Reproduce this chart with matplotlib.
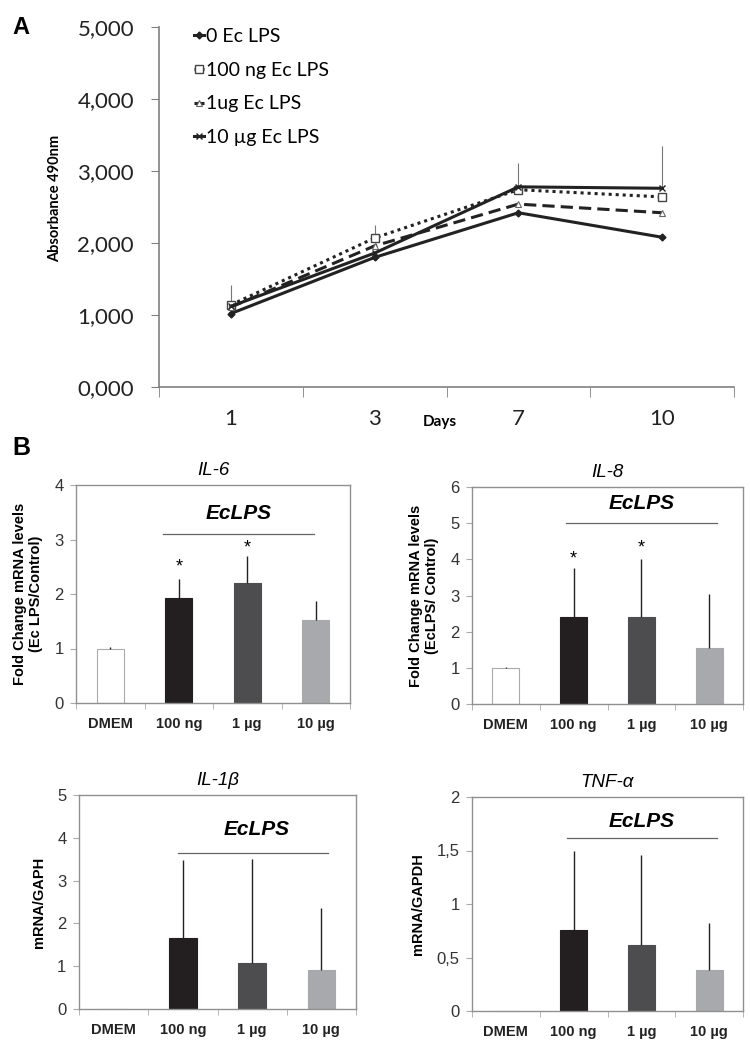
import numpy as np
import matplotlib
matplotlib.use("Agg")
import matplotlib.pyplot as plt
from matplotlib.ticker import FixedLocator, FixedFormatter

# ---- panel A data ----
days = ["1", "3", "7", "10"]
abs_0 = [1020, 1800, 2420, 2080]
abs_100ng = [1140, 2070, 2740, 2640]
abs_1ug = [1110, 1960, 2540, 2420]
abs_10ug = [1120, 1860, 2780, 2760]
err_100ng = [280, 180, 0, 0]
err_10ug = [0, 0, 330, 590]
a_yticks = [0, 1000, 2000, 3000, 4000, 5000]
a_ylabels = ["0,000", "1,000", "2,000", "3,000", "4,000", "5,000"]

# ---- panel B data ----
groups = ["DMEM", "100 ng", "1 µg", "10 µg"]
il6_vals = [1.0, 1.93, 2.2, 1.52]
il6_err = [0.02, 0.35, 0.5, 0.36]
il6_star = [None, 2.5, 2.84, None]
il8_vals = [1.0, 2.4, 2.4, 1.55]
il8_err = [0.03, 1.35, 1.6, 1.5]
il8_star = [None, 4.0, 4.3, None]
il1b_vals = [0.01, 1.67, 1.07, 0.9]
il1b_err = [0.0, 1.81, 2.43, 1.45]
tnf_vals = [0.003, 0.76, 0.62, 0.38]
tnf_err = [0.0, 0.74, 0.84, 0.44]
tnf_ylabels = ["0", "0,5", "1", "1,5", "2"]

W, H = 750, 1050
fig = plt.figure(figsize=(7.5, 10.5), dpi=100)


def px_axes(l, t, r, b):
    return fig.add_axes([l / W, 1 - b / H, (r - l) / W, (b - t) / H])


# ================= panel A =================
fa = "Lato"
ax = px_axes(159, 27, 734, 387)
x = np.arange(len(days))
dark = "#222222"
ax.errorbar(x, abs_100ng, yerr=[[0] * 4, err_100ng], fmt="none", ecolor="#777777", elinewidth=0.8)
ax.errorbar(x, abs_10ug, yerr=[[0] * 4, err_10ug], fmt="none", ecolor="#777777", elinewidth=0.8)
ax.plot(x, abs_0, color=dark, lw=2.2, marker="D", ms=3.5, label="0 Ec LPS")
ax.plot(x, abs_100ng, color=dark, lw=2.2, ls=(0, (1, 1.3)), marker="s", ms=6, mfc="white",
        mec="#444444", mew=1, label="100 ng Ec LPS")
ax.plot(x, abs_1ug, color=dark, lw=2.2, ls=(0, (4, 2)), marker="^", ms=5, mfc="white",
        mec="#666666", mew=0.8, label="1ug Ec LPS")
ax.plot(x, abs_10ug, color=dark, lw=2.2, marker="x", ms=5, mew=1, label="10 µg Ec LPS")
ax.set_xlim(-0.5, 3.5)
ax.set_ylim(0, 5000)
for s in ["top", "right"]:
    ax.spines[s].set_visible(False)
for s in ["left", "bottom"]:
    ax.spines[s].set_color("#808080")
    ax.spines[s].set_linewidth(1.2)
ax.yaxis.set_major_locator(FixedLocator(a_yticks))
ax.yaxis.set_major_formatter(FixedFormatter(a_ylabels))
ax.set_xticks(x)
ax.set_xticklabels(days)
ax.set_xticks(np.arange(-0.5, 4, 1), minor=True)
ax.tick_params(axis="x", which="major", length=0, pad=16)
ax.tick_params(axis="x", which="minor", length=7, color="#808080", direction="out")
ax.tick_params(axis="y", length=6, color="#808080", pad=12)
for lab in ax.get_xticklabels() + ax.get_yticklabels():
    lab.set_fontfamily(fa)
    lab.set_fontsize(16)
    lab.set_color("#222222")
ax.set_ylabel("Absorbance 490nm", fontfamily=fa, fontweight="bold", fontsize=10.5)
ax.yaxis.set_label_coords(-0.168, 0.525)
ax.legend(loc="upper left", bbox_to_anchor=(0.03, 1.045), frameon=False,
          handlelength=0.55, handletextpad=0.1, labelspacing=0.85,
          prop={"family": fa, "size": 14})
fig.text(12 / W, 1 - 27 / H, "A", fontfamily="Liberation Sans", fontweight="bold",
         fontsize=17, va="center", ha="left")
fig.text(440 / W, 1 - 422 / H, "Days", fontfamily=fa, fontweight="bold", fontsize=11,
         ha="center", va="center")

# ================= panel B =================
fb = "Liberation Sans"
bar_colors = ["white", "#231f20", "#4d4d4f", "#a7a9ac"]
bar_edges = ["#aaaaaa", "#231f20", "#4d4d4f", "#a7a9ac"]


def bar_panel(box, vals, errs, ymax, yticks, title, ylabel, line_x, line_y, text_x, text_y,
              stars=None, ylabels=None):
    axb = px_axes(*box)
    xb = np.arange(len(groups))
    axb.bar(xb, vals, width=0.4, color=bar_colors, edgecolor=bar_edges, linewidth=0.8, zorder=2)
    axb.errorbar(xb, vals, yerr=[[0] * 4, errs], fmt="none", ecolor="#222222", elinewidth=1,
                 capsize=0, zorder=3)
    axb.set_xlim(-0.5, 3.5)
    axb.set_ylim(0, ymax)
    axb.set_yticks(yticks)
    if ylabels is not None:
        axb.set_yticklabels(ylabels)
    axb.set_xticks(xb)
    axb.set_xticklabels(groups, fontweight="bold")
    axb.set_xticks(np.arange(-0.5, 4, 1), minor=True)
    axb.tick_params(axis="x", which="major", length=0, pad=10)
    axb.tick_params(axis="x", which="minor", length=4, color="#aaaaaa")
    axb.tick_params(axis="y", length=4, color="#aaaaaa", pad=5)
    for lab in axb.get_xticklabels():
        lab.set_fontfamily(fb)
        lab.set_fontsize(10.5)
        lab.set_color("#222222")
    for lab in axb.get_yticklabels():
        lab.set_fontfamily(fb)
        lab.set_fontsize(12)
        lab.set_color("#333333")
    for s in axb.spines.values():
        s.set_color("#909090")
        s.set_linewidth(1.0)
    axb.set_title(title, fontfamily=fb, fontstyle="italic", fontsize=13.5, pad=7)
    axb.set_ylabel(ylabel, fontfamily=fb, fontweight="bold", fontsize=10.5, labelpad=8)
    axb.plot(line_x, [line_y, line_y], color="#666666", lw=0.9)
    axb.text(text_x, text_y, "EcLPS", fontfamily=fb, fontweight="bold", fontstyle="italic",
             fontsize=15, ha="center", va="center")
    if stars:
        for i, sy in enumerate(stars):
            if sy is not None:
                axb.text(i, sy, "*", fontfamily=fb, fontsize=13, ha="center", va="center")
    return axb


bar_panel((76, 485, 350, 703), il6_vals, il6_err, 4, [0, 1, 2, 3, 4], "IL-6",
          "Fold Change mRNA levels\n(Ec LPS/Control)", [0.77, 2.97], 3.1, 1.87, 3.48,
          stars=il6_star)
bar_panel((472, 487, 743, 704), il8_vals, il8_err, 6, [0, 1, 2, 3, 4, 5, 6], "IL-8",
          "Fold Change mRNA levels\n(EcLPS/ Control)", [0.89, 3.12], 5.0, 2.0, 5.55,
          stars=il8_star)
bar_panel((79, 795, 356, 1009), il1b_vals, il1b_err, 5, [0, 1, 2, 3, 4, 5], "IL-1β",
          "mRNA/GAPH", [0.93, 3.1], 3.65, 2.07, 4.2)
bar_panel((472, 797, 743, 1011), tnf_vals, tnf_err, 2, [0, 0.5, 1, 1.5, 2], "TNF-α",
          "mRNA/GAPDH", [0.9, 3.12], 1.62, 2.0, 1.77, ylabels=tnf_ylabels)

fig.text(12 / W, 1 - 448 / H, "B", fontfamily=fb, fontweight="bold", fontsize=18,
         va="center", ha="left")

fig.savefig("out.png", dpi=100)
